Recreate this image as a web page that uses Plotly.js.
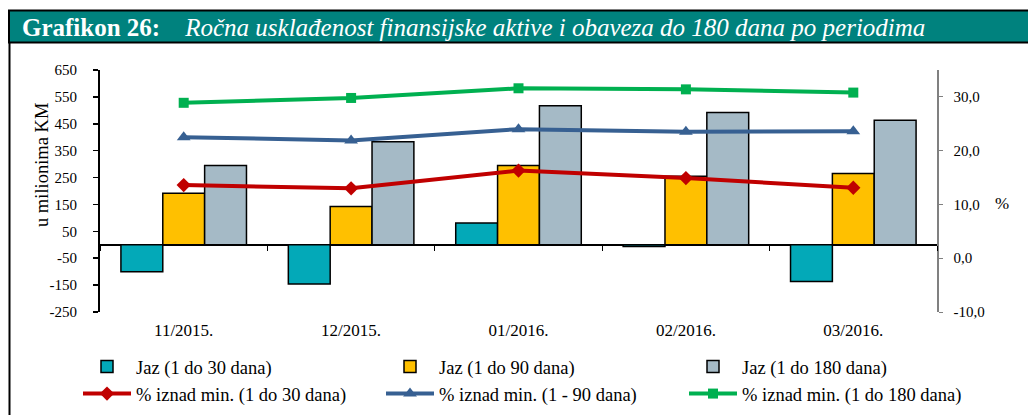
<!DOCTYPE html>
<html>
<head>
<meta charset="utf-8">
<script src="https://cdn.plot.ly/plotly-3.0.1.min.js"></script>
<style>html,body{margin:0;padding:0;background:#fff;}#chart{width:1028px;height:415px;}</style>
</head>
<body>
<div id="chart"></div>
<script>
const categories = ["11/2015.", "12/2015.", "01/2016.", "02/2016.", "03/2016."];
const jaz30 = [-100, -146, 81, -6, -137];
const jaz90 = [192, 142, 295, 255, 265];
const jaz180 = [295, 383, 517, 492, 463];
const pct30 = [13.6, 13.0, 16.3, 14.9, 13.1];
const pct90 = [22.5, 21.9, 24.0, 23.5, 23.6];
const pct180 = [28.9, 29.8, 31.6, 31.4, 30.8];
const leftTicks = [650, 550, 450, 350, 250, 150, 50, -50, -150, -250];
const leftTickText = ["650", "550", "450", "350", "250", "150", "50", "-50", "-150", "-250"];
const rightTicks = [30, 20, 10, 0, -10];
const rightTickText = ["30,0", "20,0", "10,0", "0,0", "-10,0"];
const seriesNames = ["Jaz (1 do 30 dana)", "Jaz (1 do 90 dana)", "Jaz (1 do 180 dana)",
  "% iznad min. (1 do 30 dana)", "% iznad min. (1 - 90 dana)", "% iznad min. (1 do 180 dana)"];

const W = 1028, H = 415;
const M = {l: 100, r: 91, t: 70, b: 103, autoexpand: false};
const PW = W - M.l - M.r, PH = H - M.t - M.b;
const px = x => (x - M.l) / PW;
const py = y => (H - M.b - y) / PH;

const serif = "Liberation Serif, Times New Roman, serif";

const traces = [
  {type: "bar", name: seriesNames[0], x: categories, y: jaz30,
   marker: {color: "#03A9B8", line: {color: "#000", width: 1.5}}},
  {type: "bar", name: seriesNames[1], x: categories, y: jaz90,
   marker: {color: "#FFC000", line: {color: "#000", width: 1.5}}},
  {type: "bar", name: seriesNames[2], x: categories, y: jaz180,
   marker: {color: "#A5BAC6", line: {color: "#000", width: 1.5}}},
  {type: "scatter", mode: "lines+markers", name: seriesNames[3], x: categories, y: pct30, yaxis: "y2",
   line: {color: "#C00000", width: 4}, marker: {symbol: "diamond", size: 11, color: "#C00000"}},
  {type: "scatter", mode: "lines+markers", name: seriesNames[4], x: categories, y: pct90, yaxis: "y2",
   line: {color: "#376092", width: 4}, marker: {symbol: "triangle-up", size: 12, color: "#376092"}},
  {type: "scatter", mode: "lines+markers", name: seriesNames[5], x: categories, y: pct180, yaxis: "y2",
   line: {color: "#00B050", width: 4}, marker: {symbol: "square", size: 10, color: "#00B050"}}
];

const layout = {
  width: W, height: H,
  margin: M,
  paper_bgcolor: "#fff", plot_bgcolor: "#fff",
  font: {family: serif, color: "#000", size: 15},
  showlegend: true,
  barmode: "group", bargap: 0.25, bargroupgap: 0,
  title: {
    text: "<b>Grafikon 26:</b>&nbsp;&nbsp;&nbsp;&nbsp;<i>Ročna usklađenost finansijske aktive i obaveza do 180 dana po periodima</i>",
    x: 22 / W, xref: "container", xanchor: "left",
    y: 1 - 27 / H, yref: "container", yanchor: "middle",
    font: {family: serif, size: 25, color: "#fff"}
  },
  xaxis: {
    type: "category", categoryarray: categories,
    anchor: "free", position: 250 / 900,
    showline: false, showgrid: false, zeroline: false,
    ticks: "outside", tickson: "boundaries", ticklen: 5, tickwidth: 1, tickcolor: "#000",
    ticklabelstandoff: 73,
    tickfont: {family: serif, size: 17, color: "#000"}
  },
  yaxis: {
    range: [-250, 650], showgrid: false,
    tickvals: leftTicks, ticktext: leftTickText,
    ticks: "outside", ticklen: 5, tickwidth: 1.5, tickcolor: "#000",
    showline: true, linecolor: "#000", linewidth: 2,
    zeroline: true, zerolinecolor: "#000", zerolinewidth: 2,
    ticklabelstandoff: 13,
    tickfont: {family: serif, size: 15, color: "#000"}
  },
  yaxis2: {
    overlaying: "y", side: "right", range: [-10, 35], showgrid: false, zeroline: false,
    tickvals: rightTicks, ticktext: rightTickText,
    ticks: "outside", ticklen: 4, tickwidth: 1, tickcolor: "#808080",
    showline: true, linecolor: "#808080", linewidth: 1.5,
    ticklabelstandoff: 8,
    tickfont: {family: serif, size: 15, color: "#000"}
  },
  legend: {
    orientation: "h", x: px(78), xanchor: "left", y: py(348), yanchor: "top",
    entrywidth: 240, entrywidthmode: "pixels", itemwidth: 48,
    font: {family: serif, size: 18.5, color: "#000"},
    bgcolor: "rgba(0,0,0,0)", tracegroupgap: 0, traceorder: "normal"
  },
  shapes: [
    {type: "rect", xref: "paper", yref: "paper", x0: px(9), x1: px(1035), y0: py(42.5), y1: py(10.5),
     fillcolor: "#00827E", line: {color: "#000", width: 2}, layer: "above"},
    {type: "line", xref: "paper", yref: "paper", x0: px(9.5), x1: px(9.5), y0: py(42), y1: py(420),
     line: {color: "#000", width: 2}}
  ],
  annotations: [
    {text: "u milionima KM", xref: "paper", yref: "paper", x: px(42), y: py(165),
     xanchor: "center", yanchor: "middle",
     textangle: -90, showarrow: false, font: {family: serif, size: 18.5, color: "#000"}},
    {text: "%", xref: "paper", yref: "paper", x: px(1002), y: py(203),
     xanchor: "center", yanchor: "middle",
     showarrow: false, font: {family: serif, size: 17, color: "#000"}}
  ]
};

Plotly.newPlot("chart", traces, layout, {displayModeBar: false, staticPlot: true});
</script>
</body>
</html>
